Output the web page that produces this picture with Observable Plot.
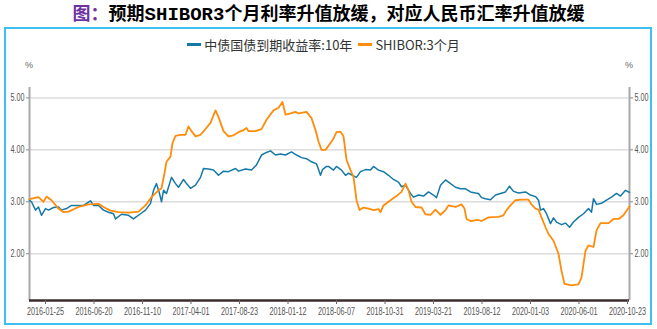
<!DOCTYPE html>
<html><head><meta charset="utf-8">
<script src="https://cdn.jsdelivr.net/npm/d3@7"></script>
<script src="https://cdn.jsdelivr.net/npm/@observablehq/plot@0.6"></script>
<style>
body{margin:0;background:#fff;}
#wrap{position:relative;width:657px;height:329px;overflow:hidden;font-family:"Noto Sans CJK SC",sans-serif;}
#title{position:absolute;top:0;left:0;width:657px;text-align:center;font-size:18px;font-weight:bold;line-height:25px;color:#000;white-space:nowrap;}
#title .fig{color:#7030a0;}
#title .mono{font-family:"Liberation Mono","DejaVu Sans Mono",monospace;font-size:19px;font-weight:bold;}
#frame{position:absolute;left:4px;top:27px;width:644px;height:294px;border:2px solid #3fbfef;}
#legend{position:absolute;top:35px;left:0;width:641px;display:flex;justify-content:center;align-items:center;font-size:13px;color:#333;white-space:nowrap;}
#legend .sw{display:inline-block;width:14px;height:3px;margin:0 3px 0 6px;}
.pct{position:absolute;top:60px;font-size:9px;color:#666;font-family:"Liberation Sans",sans-serif;}
#chart{position:absolute;left:0;top:0;}
</style></head>
<body>
<div id="wrap">
  <div id="title"><span class="fig">图：</span>预期<span class="mono">SHIBOR3</span>个月利率升值放缓，对应人民币汇率升值放缓</div>
  <div id="frame"></div>
  <div id="legend"></div>
  <div class="pct" style="left:25px;">%</div>
  <div class="pct" style="left:625px;">%</div>
  <div id="chart"></div>
</div>
<script>
// series names
const seriesNames = ["中债国债到期收益率:10年", "SHIBOR:3个月"];
const seriesColors = ["#1479a8", "#ff8c0a"];

// trading-day position (0 = first day of sample, 1200 = 2020-10-23) and value (%)
const bondDay = [0,4,12,18,24,32,38,48,58,64,74,84,98,108,122,128,138,148,158,168,172,184,198,208,212,222,232,242,248,254,260,264,268,274,284,292,298,308,314,322,332,342,348,358,368,378,388,398,412,418,432,444,454,464,474,482,492,502,512,524,534,544,554,564,574,582,586,594,598,608,614,624,632,638,648,654,662,672,682,688,698,708,718,728,738,744,752,762,768,778,788,798,808,814,822,832,842,852,862,872,882,892,898,904,912,922,932,942,952,960,968,978,992,1002,1012,1018,1022,1028,1034,1042,1048,1054,1064,1072,1080,1088,1098,1108,1118,1124,1128,1134,1144,1154,1164,1174,1182,1192,1200];
const bondRate = [3.03,3.00,2.84,2.90,2.74,2.87,2.84,2.89,2.90,2.84,2.87,2.93,2.93,2.93,3.02,2.93,2.93,2.84,2.80,2.77,2.67,2.76,2.74,2.67,2.70,2.77,2.84,2.97,3.22,3.35,3.16,3.00,3.22,3.16,3.47,3.35,3.28,3.43,3.35,3.26,3.32,3.47,3.64,3.63,3.61,3.51,3.59,3.58,3.64,3.59,3.63,3.61,3.71,3.90,3.95,3.98,3.90,3.92,3.90,3.96,3.90,3.85,3.83,3.77,3.73,3.51,3.62,3.68,3.68,3.61,3.68,3.61,3.51,3.55,3.50,3.47,3.58,3.62,3.61,3.68,3.61,3.58,3.51,3.43,3.38,3.29,3.32,3.16,3.09,3.13,3.11,3.19,3.13,3.08,3.32,3.42,3.35,3.28,3.25,3.25,3.19,3.17,3.16,3.08,3.06,3.04,3.13,3.16,3.19,3.30,3.20,3.17,3.19,3.13,3.10,3.03,2.84,2.87,2.77,2.58,2.69,2.61,2.56,2.59,2.51,2.61,2.70,2.77,2.87,2.80,3.06,2.95,2.97,3.03,3.09,3.16,3.11,3.22,3.18];

const shiborDay = [0,18,28,34,44,58,68,78,98,118,138,148,162,178,198,218,232,244,258,264,270,274,282,286,292,302,312,318,324,332,342,352,362,372,378,388,398,408,418,428,434,438,452,464,474,488,498,506,512,522,532,538,554,564,572,578,584,592,602,608,614,622,628,634,642,648,654,660,668,678,688,698,702,708,722,734,744,752,758,764,772,784,792,802,812,822,832,838,852,864,870,874,882,898,904,918,938,948,954,962,972,984,998,1004,1012,1018,1024,1032,1038,1048,1058,1064,1070,1084,1098,1104,1112,1118,1128,1134,1142,1158,1168,1178,1188,1200];
const shiborRate = [3.05,3.09,3.00,3.10,3.03,2.87,2.80,2.81,2.90,2.95,2.96,2.90,2.83,2.80,2.79,2.81,2.93,3.09,3.22,3.26,3.55,3.77,3.87,4.13,4.27,4.29,4.29,4.45,4.36,4.26,4.29,4.40,4.52,4.76,4.63,4.36,4.26,4.28,4.34,4.38,4.42,4.36,4.36,4.40,4.58,4.76,4.81,4.92,4.68,4.70,4.73,4.70,4.73,4.61,4.38,4.16,4.00,4.00,4.13,4.22,4.34,4.35,4.26,3.81,3.61,3.48,3.03,2.84,2.89,2.87,2.84,2.86,2.80,2.93,3.03,3.11,3.19,3.35,3.22,3.00,2.90,2.89,2.76,2.75,2.85,2.75,2.84,2.93,2.90,2.95,2.87,2.67,2.63,2.65,2.63,2.70,2.71,2.74,2.84,2.93,3.03,3.04,3.04,2.95,2.87,2.85,2.70,2.51,2.38,2.25,2.00,1.67,1.42,1.39,1.41,1.54,2.06,2.16,2.13,2.45,2.59,2.59,2.67,2.67,2.74,2.91];

// axes
const tickDays = [32,129,226,323,420,517,614,711,808,905,1002,1099,1196];
const tickLabels = ["2016-01-25","2016-06-20","2016-11-10","2017-04-01","2017-08-23","2018-01-12","2018-06-07","2018-10-31","2019-03-21","2019-08-12","2020-01-03","2020-06-01","2020-10-23"];
const yTicks = [2,3,4,5];

const bond = bondDay.map((d,i)=>({day:d, rate:bondRate[i]}));
const shibor = shiborDay.map((d,i)=>({day:d, rate:shiborRate[i]}));
const labelOf = new Map(tickDays.map((d,i)=>[d,tickLabels[i]]));

// legend
const lg = document.getElementById("legend");
seriesNames.forEach((n,i)=>{
  const s=document.createElement("span"); s.className="sw"; s.style.background=seriesColors[i]; lg.appendChild(s);
  const t=document.createElement("span"); t.textContent=n; lg.appendChild(t);
});

const axisFont = '"Liberation Sans",sans-serif';
const chart = Plot.plot({
  width:657, height:329,
  marginLeft:29, marginRight:28, marginTop:87, marginBottom:29,
  x:{domain:[0,1200], axis:null},
  y:{domain:[1.1,5.2], axis:null},
  style:{background:"transparent", fontFamily:axisFont, fontSize:"9px", color:"#555", overflow:"visible"},
  marks:[
    Plot.gridY(yTicks,{stroke:"#dcdcdc", strokeOpacity:1, strokeWidth:1.5}),
    Plot.ruleX([0],{stroke:"#a8a8a8", strokeWidth:2}),
    Plot.ruleX([1200],{stroke:"#a8a8a8", strokeWidth:2}),
    Plot.axisY(yTicks,{anchor:"left", label:null, tickFormat:d=>d.toFixed(2), tickSize:3, tickPadding:2, stroke:"#888", fill:"#555"}),
    Plot.axisY(yTicks,{anchor:"right", label:null, tickFormat:d=>d.toFixed(2), tickSize:3, tickPadding:2, stroke:"#888", fill:"#555"}),
    Plot.line(bond,{x:"day", y:"rate", stroke:seriesColors[0], strokeWidth:1.5}),
    Plot.line(shibor,{x:"day", y:"rate", stroke:seriesColors[1], strokeWidth:1.8}),
    Plot.ruleY([1.1],{stroke:"#3b2b2b", strokeWidth:2.5}),
    Plot.axisX(tickDays,{label:null, tickFormat:d=>labelOf.get(d), tickSize:4, tickPadding:3, stroke:"#666", fill:"#555"})
  ]
});
document.getElementById("chart").appendChild(chart);
// condensed look of the original axis labels
d3.select(chart).selectAll('g[aria-label="x-axis tick label"] text').attr("textLength",37).attr("lengthAdjust","spacingAndGlyphs").style("font-size","10px");
d3.select(chart).selectAll('g[aria-label="y-axis tick label"] text').attr("textLength",14).attr("lengthAdjust","spacingAndGlyphs").style("font-size","10px");
</script>
</body></html>
